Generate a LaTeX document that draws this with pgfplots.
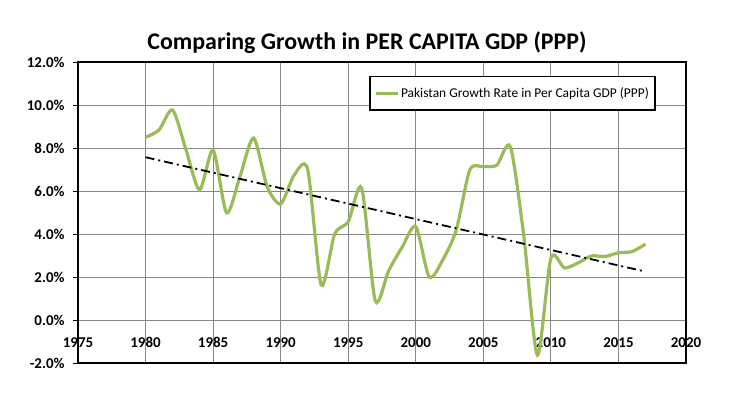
\documentclass[border=0pt]{standalone}
\usepackage{pgfplots}
\pgfplotsset{compat=1.18}
\usepackage{fontspec}
\setmainfont{Carlito}
\definecolor{olivegreen}{HTML}{9BBB59}
\definecolor{gridgray}{HTML}{878787}
\begin{document}
\begin{tikzpicture}[x=1bp,y=1bp]
\path (-78bp,-52bp) rectangle (653bp,363bp);
\begin{axis}[
  at={(0,0)}, anchor=south west,
  scale only axis,
  width=608bp, height=301bp,
  xmin=1975, xmax=2020, ymin=-2, ymax=12,
  xtick={1975,1980,...,2020},
  ytick={-2,0,...,12},
  grid=major,
  major grid style={gridgray, line width=0.9pt},
  axis line style={black, line width=1.6pt},
  /pgf/number format/assume math mode=true,
  xticklabel={\pgfmathprintnumber[1000 sep={}]{\tick}},
  yticklabel={\pgfmathprintnumber[fixed,fixed zerofill,precision=1]{\tick}\%},
  xticklabel style={font=\fontsize{15}{17}\selectfont\bfseries, yshift=34bp},
  yticklabel style={font=\fontsize{15}{17}\selectfont\bfseries, xshift=-5bp},
  xtick style={draw=none},
  ytick style={black, line width=0.9pt},
  ytick pos=left,
  tick align=outside,
  major tick length=5bp,
  legend style={at={(0.479,0.954)}, anchor=north west, draw=black, line width=1.6pt,
    font=\fontsize{13.5}{16}\selectfont, inner xsep=4bp, inner ysep=9bp,
    legend cell align=left},
  legend image code/.code={\draw[#1, line width=3pt] (0bp,0bp) -- (22bp,0bp);},
  clip=false,
]
\addplot[olivegreen, line width=3.2pt, smooth, tension=0.45] coordinates {
(1980,8.50) (1981,8.84) (1982,9.77) (1983,7.9) (1984,6.05) (1985,7.9)
(1986,4.98) (1987,6.7) (1988,8.46) (1989,6.2) (1990,5.4) (1991,6.74)
(1992,7.0) (1993,1.63) (1994,4.0) (1995,4.57) (1996,6.13) (1997,0.9)
(1998,2.3) (1999,3.4) (2000,4.34) (2001,2.0) (2002,2.8) (2003,4.2)
(2004,6.98) (2005,7.13) (2006,7.2) (2007,8.06) (2008,3.88) (2009,-1.63)
(2010,2.88) (2011,2.42) (2012,2.65) (2013,2.98) (2014,2.95) (2015,3.13)
(2016,3.18) (2017,3.53)
};
\addlegendentry{Pakistan Growth Rate in Per Capita GDP (PPP)}
\addplot[black, line width=1.8pt, dash pattern=on 9bp off 4bp on 2bp off 4bp, forget plot] coordinates {
(1980,7.57) (2017,2.25)
};
\end{axis}
\node[font=\fontsize{24}{28}\selectfont\bfseries] at (289bp,320bp) {Comparing Growth in PER CAPITA GDP (PPP)};
\end{tikzpicture}
\end{document}
